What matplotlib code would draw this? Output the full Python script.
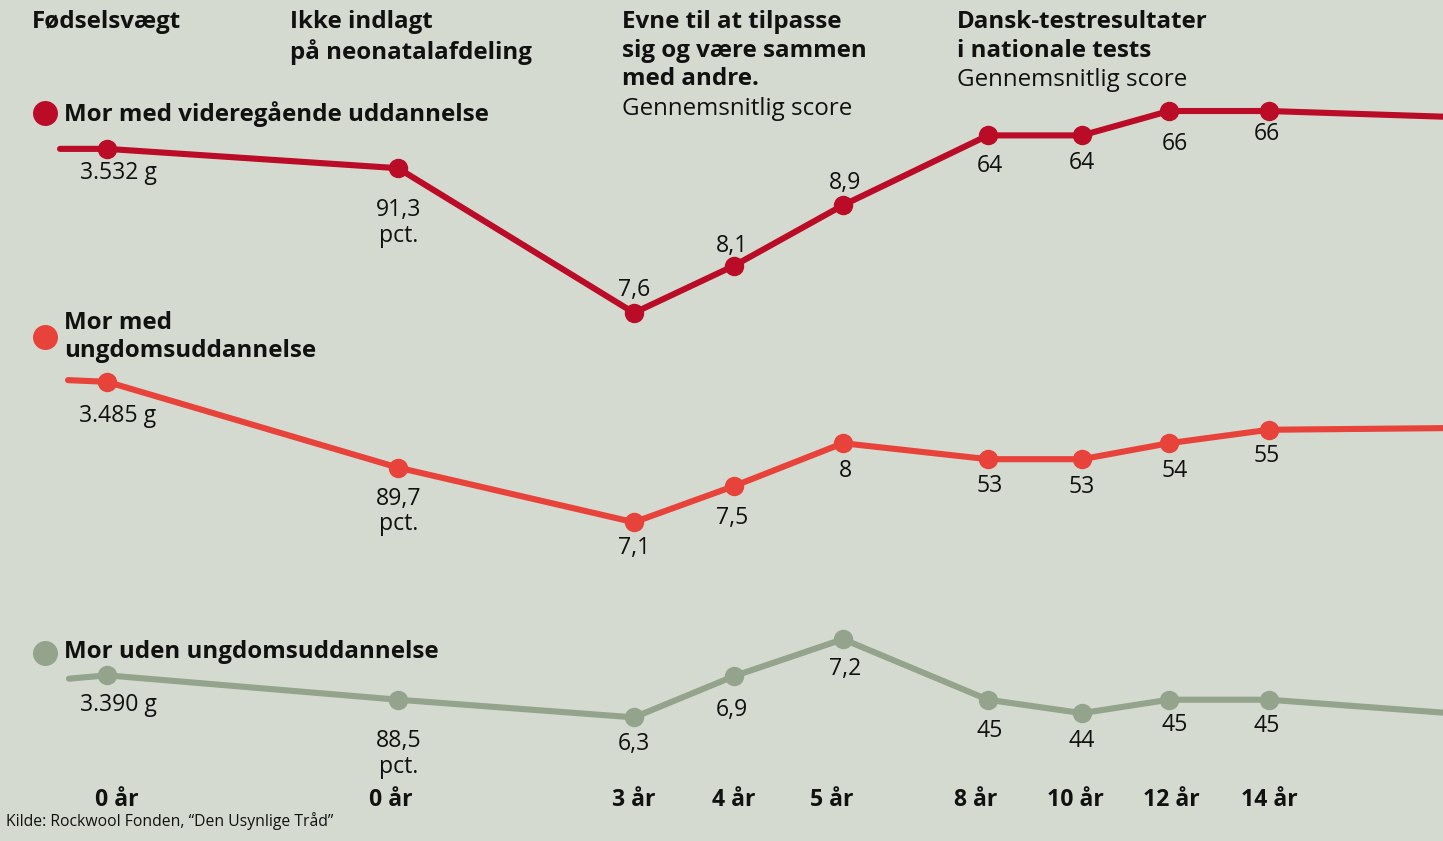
import matplotlib
matplotlib.use("Agg")
import matplotlib.pyplot as plt

# ---------------- data ----------------
columns = ["0 år", "0 år", "3 år", "4 år", "5 år", "8 år", "10 år", "12 år", "14 år"]

series_names = ["Mor med videregående uddannelse",
                "Mor med\nungdomsuddannelse",
                "Mor uden ungdomsuddannelse"]

# value labels shown at each point
red_labels = ["3.532 g", "91,3\npct.", "7,6", "8,1", "8,9", "64", "64", "66", "66"]
orange_labels = ["3.485 g", "89,7\npct.", "7,1", "7,5", "8", "53", "53", "54", "55"]
gray_labels = ["3.390 g", "88,5\npct.", "6,3", "6,9", "7,2", "45", "44", "45", "45"]

# plotted level of each point (0-100 chart index),
# first/last entries are the line stubs running off the chart edges
red_level = [82.3, 82.3, 80.0, 62.8, 68.4, 75.6, 83.9, 83.9, 86.8, 86.8, 86.1]
orange_level = [54.8, 54.6, 44.4, 37.9, 42.2, 47.3, 45.4, 45.4, 47.3, 48.9, 49.1]
gray_level = [19.3, 19.7, 16.8, 14.7, 19.6, 24.0, 16.8, 15.2, 16.8, 16.8, 15.2]

headers = ["Fødselsvægt", "Ikke indlagt\npå neonatalafdeling",
           "Evne til at tilpasse\nsig og være sammen\nmed andre.",
           "Dansk-testresultater\ni nationale tests"]
subheaders = ["", "", "Gennemsnitlig score", "Gennemsnitlig score"]
source = "Kilde: Rockwool Fonden, \u201cDen Usynlige Tråd\u201d"

# ---------------- layout / style ----------------
W, H = 1443, 841
BG = "#D4DAD0"
colors = ["#BA0C27", "#E8433B", "#94A38C"]
col_x = [107, 398, 634, 734, 843, 988, 1082, 1169, 1269]
stub_x = [[60, 1450], [68, 1450], [69, 1450]]
tick_x = [117, 391, 634, 734, 832, 976, 1075, 1171, 1269]
label_dx = [11, 1, 0, -2, 2, 2, 0, 6, -2]
label_dy = [
    [24, 55, -23, -20, -22, 31, 28, 33, 23],
    [34, 44, 26, 32, 28, 27, 28, 28, 26],
    [30, 54, 27, 34, 30, 31, 28, 25, 26],
]
legend_y = [113, 337, 653]
legend_text_y = [114, 337, 652]
header_x = [32, 290, 622, 957]

FONT = ["Open Sans", "DejaVu Sans"]
plt.rcParams["font.family"] = FONT
TXT = "#111111"

fig = plt.figure(figsize=(W / 100, H / 100), dpi=100, facecolor=BG)
# pixel-layout axes for text
lay = fig.add_axes([0, 0, 1, 1])
lay.set_xlim(0, W)
lay.set_ylim(H, 0)
lay.axis("off")
lay.set_facecolor(BG)

# data axes (x in layout px, y = chart level 0..100)
ax = fig.add_axes([0, 0, 1, 1], sharex=lay)
ax.set_ylim(0, 100)
ax.patch.set_alpha(0)
ax.axis("off")

levels = [red_level, orange_level, gray_level]
labels = [red_labels, orange_labels, gray_labels]

for i, (lev, labs) in enumerate(zip(levels, labels)):
    c = colors[i]
    xs = [stub_x[i][0]] + col_x + [stub_x[i][1]]
    ax.plot(xs, lev, color=c, lw=4.4, solid_capstyle="round",
            solid_joinstyle="round", zorder=2, clip_on=True)
    ax.plot(col_x, lev[1:-1], "o", color=c, ms=14, mew=0, zorder=3)
    for j, t in enumerate(labs):
        ax.annotate(t, (col_x[j], lev[j + 1]),
                    xytext=(label_dx[j] * 0.72, -label_dy[i][j] * 0.72),
                    textcoords="offset points", ha="center", va="center",
                    fontsize=16.6, color=TXT, linespacing=1.1)
    # legend dot + name
    lay.plot([45], [legend_y[i]], "o", color=c, ms=18, mew=0)
    lay.text(64, legend_text_y[i], series_names[i], fontsize=17.4,
             fontweight="bold", color=TXT, va="center", ha="left",
             linespacing=1.25)

# column headers
for hx, h, s in zip(header_x, headers, subheaders):
    n = h.count("\n") + 1
    lay.text(hx, 10, h, fontsize=17.4, fontweight="bold", color=TXT,
             va="top", ha="left", linespacing=1.25)
    if s:
        lay.text(hx, 10 + n * 29, s, fontsize=17.4, color=TXT,
                 va="top", ha="left")

# x labels
for tx, t in zip(tick_x, columns):
    lay.text(tx, 800, t, fontsize=16.6, fontweight="bold", color=TXT,
             ha="center", va="center")

lay.text(6, 821, source, fontsize=11.3, color=TXT, ha="left", va="center")

fig.savefig("out.png", dpi=100, facecolor=BG)
